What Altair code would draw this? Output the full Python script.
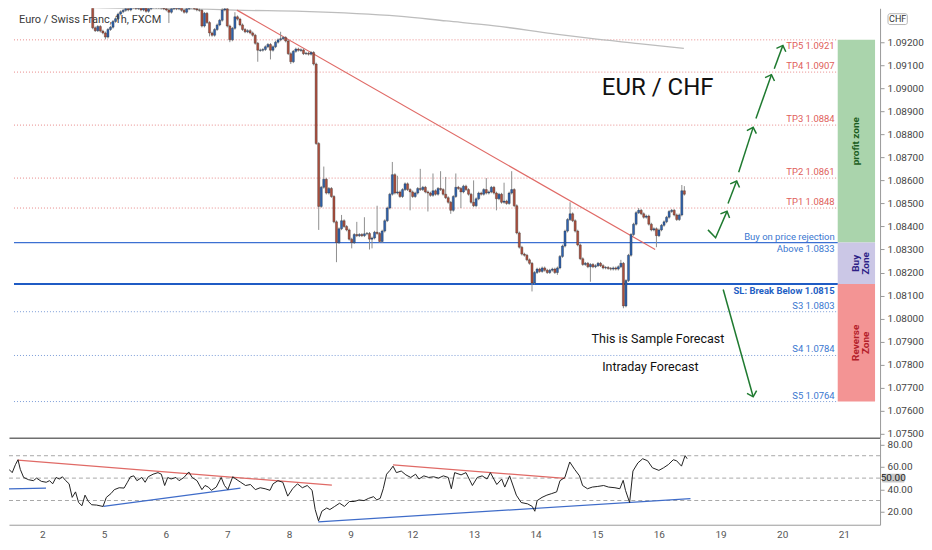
import json
import math
import altair as alt
import pandas as pd

# ------------------------------------------------------------------ data
BASE = 1.08000          # closes are given in pipettes above 1.08000
PIP = 0.00001

closes = [
    1490, 1505, 1520, 1530, 1505, 1492, 1488, 1485, 1490, 1480,
    1488, 1478, 1472, 1476, 1468, 1474, 1462, 1472, 1470, 1476,
    1468, 1465, 1458, 1440, 1405, 1420, 1385, 1372, 1360, 1385,
    1372, 1262, 1250, 1268, 1248, 1240, 1222, 1255, 1265, 1290,
    1302, 1322, 1332, 1338, 1345, 1340, 1350, 1356, 1346, 1352,
    1340, 1348, 1334, 1345, 1352, 1358, 1350, 1355, 1348, 1345,
    1340, 1330, 1345, 1350, 1345, 1352, 1338, 1330, 1345, 1350,
    1355, 1345, 1340, 1338, 1270, 1325, 1285, 1240, 1230, 1255,
    1275, 1295, 1340, 1345, 1270, 1210, 1260, 1310, 1300, 1275,
    1255, 1245, 1250, 1240, 1230, 1195, 1165, 1165, 1168, 1180,
    1190, 1165, 1180, 1200, 1210, 1215, 1220, 1205, 1150, 1115,
    1160, 1170, 1165, 1166, 1150, 1152, 1148, 1155, 1105, 760,
    487, 570, 605, 545, 565, 530, 420, 330, 390, 425,
    400, 385, 345, 330, 365, 360, 365, 360, 368, 370,
    345, 350, 375, 370, 335, 380, 425, 480, 540, 625,
    545, 550, 530, 560, 585, 560, 550, 530, 545, 565,
    560, 570, 550, 545, 535, 555, 540, 565, 560, 540,
    525, 505, 470, 530, 570, 565, 550, 575, 560, 540,
    505, 490, 520, 545, 540, 560, 545, 550, 570, 545,
    520, 540, 505, 510, 500, 545, 560, 490, 372, 310,
    280, 275, 255, 240, 155, 200, 215, 205, 220, 210,
    200, 210, 215, 200, 220, 270, 315, 380, 430, 455,
    425, 380, 320, 260, 235, 240, 225, 235, 225, 230,
    240, 230, 220, 222, 218, 215, 220, 215, 225, 240,
    55, 165, 275, 365, 410, 460, 470, 455, 440, 445,
    410, 385, 390, 360, 385, 405, 420, 440, 465, 470,
    450, 430, 450, 555, 540,
]
first_open = 1480
wick_high = {82: 1360, 87: 1330, 105: 1245, 122: 660, 129: 450, 135: 420, 138: 440,
             143: 490, 149: 680, 151: 620, 160: 650, 165: 630, 168: 640, 170: 615,
             174: 630, 181: 600, 186: 610, 193: 590, 196: 640, 219: 505, 239: 255,
             246: 480, 263: 580, 264: 575}
wick_low = {36: 1212, 61: 1283, 77: 1225, 85: 1200, 96: 1115, 101: 1125, 109: 1105,
            120: 385, 127: 245, 133: 305, 140: 300, 141: 305, 156: 470, 163: 465,
            172: 455, 176: 480, 190: 470, 204: 118, 214: 190, 227: 160, 240: 45, 253: 310}
WICK = 6

ma_bar = [0, 37.8, 75.7, 87.1, 113.6, 151.4, 170.3, 189.3, 212, 227.1, 246, 263.8]
ma_val = [1372, 1348, 1343, 1339, 1334, 1313, 1292, 1271, 1237, 1216, 1194, 1173]

trend_bar = [87.8, 252.5]
trend_price = [1.09339, 1.08300]

tp_prices = [1.0921, 1.0907, 1.0884, 1.0861, 1.0848]
tp_labels = ["TP5 1.0921", "TP4 1.0907", "TP3 1.0884", "TP2 1.0861", "TP1 1.0848"]
tp_side = ["below", "above", "above", "above", "above"]
s_prices = [1.0803, 1.0784, 1.0764]
s_labels = ["S3 1.0803", "S4 1.0784", "S5 1.0764"]
buy_price = 1.0833
sl_price = 1.0815

zone_names = ["profit zone", "Buy\nZone", "Reverse\nZone"]
zone_top = [1.0921, 1.0833, 1.0815]
zone_bot = [1.0833, 1.0815, 1.0764]
zone_fill = ["#aad4ac", "#cbc7e6", "#f39494"]
zone_text = ["#1c5e22", "#2e1f86", "#b3202a"]

arrow_id = [1, 1, 1, 2, 2, 3, 3, 4, 4, 5, 5, 6, 6]
arrow_bar = [273.3, 276.3, 280.8, 281.2, 284.6, 285.4, 291.1, 292.2, 298.3, 299.4, 302.8, 279.3, 291.1]
arrow_price = [1.083852, 1.083513, 1.084657, 1.084996, 1.085970, 1.086352, 1.088301,
               1.088682, 1.090589, 1.090843, 1.091860, 1.081267, 1.076606]

day_bars = [13, 37, 61, 85, 109, 133, 157, 181, 205, 229, 253, 277, 301, 325]
day_labels = ["2", "5", "6", "7", "8", "9", "12", "13", "14", "15", "16", "19", "20", "21"]
price_ticks = [1.075, 1.076, 1.077, 1.078, 1.079, 1.080, 1.081, 1.082, 1.083, 1.084,
               1.085, 1.086, 1.087, 1.088, 1.089, 1.090, 1.091, 1.092]

rsi_bar = [0, 1.25, 2.5, 3.5, 4.4, 5.7, 7.6, 9.5, 10.7, 12.6, 14.5, 15.8, 17, 18.3, 19.6,
           20.8, 22.1, 23.4, 24.6, 25.9, 27.1, 28.4, 29.6, 30.9, 32.2, 34.1, 36.6, 37.9,
           39.7, 41, 42.9, 44.8, 46.1, 47.3, 48.6, 49.8, 51.7, 53, 54.2, 56.1, 58, 59.3,
           60.6, 61.8, 63.1, 65, 66.2, 68.1, 70, 71.3, 73.2, 75.1, 76.3, 77.6, 78.8, 80.7,
           82.6, 83.9, 85.2, 87.1, 88.3, 90.2, 92.1, 94, 95.9, 97.8, 99.7, 101.6, 102.8,
           104.7, 106.6, 108.5, 110.4, 112.3, 114.2, 116.1, 118, 119.2, 120.5, 121.8,
           123.7, 124.9, 126.8, 128.7, 130.6, 132.5, 134.4, 136.3, 138.2, 140, 141.9,
           143.2, 144.5, 145.7, 147, 148.3, 149.5, 150.8, 152.7, 154.5, 156.4, 158.3,
           159.6, 161.5, 163.4, 165.3, 167.2, 169.1, 171, 172.2, 173.5, 176, 177.9, 180.4,
           182.3, 184.2, 186.1, 187.4, 189.9, 191.8, 193, 194.9, 197.5, 199.4, 201.9,
           203.7, 204.7, 205.6, 207.5, 209.4, 211.3, 213.2, 214.5, 216.4, 218.3, 220.2,
           222.1, 223.3, 225.2, 227.1, 229, 231.5, 233.4, 235.9, 237.8, 239.1, 240,
           241.6, 242.9, 244.8, 246.7, 248.6, 250.5, 253, 254.8, 256.7, 258.6, 259.9,
           261.8, 263.2, 264]
rsi_val = [57.8, 54.9, 62, 66.4, 57.8, 50.6, 48.6, 47.7, 50, 47.1, 46.3, 47.7, 44.9, 50.6,
           49.2, 51.2, 47.7, 44.9, 32.8, 37.7, 28.2, 25.3, 34.8, 29.1, 26.2, 25.9, 24.7,
           32.8, 36.2, 39.7, 41.4, 41.1, 46.3, 51.2, 52, 47.7, 50.6, 46.3, 51.2, 53.5, 54.9,
           53.5, 43.4, 50.6, 49.2, 50.6, 47.7, 50.6, 55.5, 50.6, 47.7, 39.7, 43.4, 42, 39.1,
           42, 50.6, 43.4, 39.7, 51.2, 49.2, 46.3, 43.4, 44.3, 39.7, 41.4, 40.5, 39.1, 44.9,
           47.7, 46.3, 33.9, 40.5, 44.9, 41.4, 43.4, 39.1, 21.9, 11.8, 20.4, 23.3, 21.9,
           24.7, 27.6, 24.7, 29.1, 29.1, 30.5, 29.9, 31.9, 33.4, 30.5, 31.9, 40.5, 53.5,
           56.9, 60.7, 54.9, 56.3, 52.9, 50.6, 53.5, 49.2, 52, 50.6, 51.2, 50, 52, 50.6,
           40.5, 54.9, 52.9, 54.9, 43.4, 50.6, 52, 49.2, 54.9, 44.3, 49.2, 42, 52, 34.8,
           28.2, 27, 24.7, 20.4, 29.9, 32.8, 34.8, 36.2, 37.7, 47.7, 50.6, 64.4, 57.8, 52,
           43.4, 40.5, 42, 42.5, 43.4, 42, 41.4, 40.5, 48, 39.1, 28.2, 56.3, 63.5, 67.3,
           65.5, 59.2, 56.9, 59.2, 62.1, 66.4, 65.5, 60.7, 70.1, 67.3]

rsi_tl_id = ["r1", "r1", "b0", "b0", "b1", "b1", "b2", "b2", "r2", "r2"]
rsi_tl_bar = [3.4, 125.7, 0, 14.4, 36.7, 90.1, 120.4, 265.3, 149.5, 216.5]
rsi_tl_val = [66.1, 43.7, 40.3, 41.1, 24.7, 41.1, 10.9, 31.6, 61.8, 49.7]
rsi_tl_col = ["#e06a66", "#e06a66", "#3f6cc9", "#3f6cc9", "#3f6cc9", "#3f6cc9",
              "#3f6cc9", "#3f6cc9", "#e06a66", "#e06a66"]
rsi_levels = [30, 50, 70]

# ------------------------------------------------------------------ layout
W, H1, H2 = 872, 430, 86
X_DOM = [0, 339.1]
P_DOM = [1.074826, 1.09347]
R_DOM = [8.36, 85.1]
ZONE_X0 = 324.4
LABEL_X = 323.2
FONT = "Roboto"
LFS = 9.5

# ------------------------------------------------------------------ tables
rows = []
prev = first_open
for i, c in enumerate(closes):
    o = prev
    top, bot = max(o, c), min(o, c)
    if top - bot < 2:
        top += 1
        bot -= 1
    hi = wick_high.get(i, top + WICK)
    lo = wick_low.get(i, bot - WICK)
    rows.append(dict(bar=i, top=BASE + top * PIP, bot=BASE + bot * PIP,
                     high=BASE + hi * PIP, low=BASE + lo * PIP,
                     dir="up" if c >= o else "down"))
    prev = c
candles = pd.DataFrame(rows)

ma_df = pd.DataFrame({"bar": ma_bar, "price": [BASE + v * PIP for v in ma_val]})
trend_df = pd.DataFrame({"bar": trend_bar, "price": trend_price})
tp_df = pd.DataFrame({"price": tp_prices, "x0": 0, "x1": ZONE_X0})
s_df = pd.DataFrame({"price": s_prices, "x0": 0, "x1": ZONE_X0})
buy_df = pd.DataFrame({"price": [buy_price], "x0": [0], "x1": [ZONE_X0]})
sl_df = pd.DataFrame({"price": [sl_price], "x0": [0], "x1": [ZONE_X0]})

TP_COL, S_COL, SL_COL = "#e0605a", "#3a77d0", "#1f5fc4"
lab = []
for p, t, s in zip(tp_prices, tp_labels, tp_side):
    lab.append(dict(price=p, label=t, side=s, col=TP_COL))
for p, t in zip(s_prices, s_labels):
    lab.append(dict(price=p, label=t, side="above", col=S_COL))
lab.append(dict(price=buy_price, label="Buy on price rejection", side="above", col=S_COL))
lab.append(dict(price=buy_price, label="Above 1.0833", side="below", col=S_COL))
lab_df = pd.DataFrame(lab)
lab_df["lx"] = LABEL_X
sl_lab = pd.DataFrame({"price": [sl_price], "lx": [LABEL_X], "label": ["SL: Break Below 1.0815"]})

zone_df = pd.DataFrame({"name": zone_names, "p0": zone_top, "p1": zone_bot,
                        "fill": zone_fill, "tcol": zone_text})
zone_df["x0"] = ZONE_X0
zone_df["x1"] = X_DOM[1]
zone_df["xm"] = (ZONE_X0 + X_DOM[1]) / 2
zone_df["pm"] = (zone_df["p0"] + zone_df["p1"]) / 2

arrows = pd.DataFrame({"arrow": arrow_id, "bar": arrow_bar, "price": arrow_price})
arrows["seq"] = range(len(arrows))
ppb = W / (X_DOM[1] - X_DOM[0])
ppp = H1 / (P_DOM[1] - P_DOM[0])
heads = []
for a, g in arrows.groupby("arrow"):
    b0, p0 = g.iloc[-2]["bar"], g.iloc[-2]["price"]
    b1, p1 = g.iloc[-1]["bar"], g.iloc[-1]["price"]
    dx = (b1 - b0) * ppb
    dy = -(p1 - p0) * ppp
    ang = math.degrees(math.atan2(dx, -dy)) % 360
    heads.append(dict(bar=b1, price=p1, ang=ang))
heads = pd.DataFrame(heads)

big_text = pd.DataFrame({"bar": [253.5], "price": [1.08999], "t": ["EUR / CHF"]})
mid_text = pd.DataFrame({"bar": [253.6, 250.6], "price": [1.079106, 1.077919],
                         "t": ["This is Sample Forecast", "Intraday Forecast"]})
title_df = pd.DataFrame({"bar": [2.0], "price": [1.09296], "t": ["Euro / Swiss Franc, 1h, FXCM"]})
chf_box = pd.DataFrame({"x0": [344.2], "x1": [351.8], "p0": [1.093235], "p1": [1.092765],
                        "xm": [348.0], "pm": [1.093], "t": ["CHF"]})

rsi_df = pd.DataFrame({"bar": rsi_bar, "rsi": rsi_val})
rsi_tl = pd.DataFrame({"id": rsi_tl_id, "bar": rsi_tl_bar, "rsi": rsi_tl_val, "col": rsi_tl_col})
rsi_lv = pd.DataFrame({"lvl": rsi_levels})
r50 = pd.DataFrame({"x0": [339.9], "x1": [348.6], "r0": [53.9], "r1": [46.1],
                    "xm": [344.25], "rm": [50], "t": ["50.00"]})

# ------------------------------------------------------------------ encodings
xs = alt.Scale(domain=X_DOM, nice=False, zero=False)
ys = alt.Scale(domain=P_DOM, nice=False, zero=False)
rs = alt.Scale(domain=R_DOM, nice=False, zero=False)

x_axis_main = alt.Axis(labels=False, ticks=False, grid=False, domain=True,
                       domainColor="#6f6f6f", domainWidth=1.5, title=None)
y_axis_main = alt.Axis(orient="right", values=price_ticks, format=".5f", grid=False,
                       tickSize=4, tickColor="#9a9a9a", domainColor="#9a9a9a",
                       labelColor="#444444", labelFontSize=10, labelFont=FONT,
                       labelPadding=3, title=None)
label_expr = "%s[indexof(%s, datum.value)]" % (json.dumps(day_labels), json.dumps(day_bars))
x_axis_rsi = alt.Axis(values=day_bars, labelExpr=label_expr, ticks=False, grid=False,
                      domainColor="#9a9a9a", labelColor="#555555", labelFontSize=10,
                      labelFont=FONT, labelPadding=5, title=None)
y_axis_rsi = alt.Axis(orient="right", values=[20, 40, 60, 80], format=".2f", grid=False,
                      tickSize=4, tickColor="#9a9a9a", domainColor="#9a9a9a",
                      labelColor="#444444", labelFontSize=10, labelFont=FONT,
                      labelPadding=3, title=None)


def PX(f):
    return alt.X(f, type="quantitative", scale=xs, axis=x_axis_main)


def PY(f):
    return alt.Y(f, type="quantitative", scale=ys, axis=y_axis_main)


def RX(f):
    return alt.X(f, type="quantitative", scale=xs, axis=x_axis_rsi)


def RY(f):
    return alt.Y(f, type="quantitative", scale=rs, axis=y_axis_rsi)


# ------------------------------------------------------------------ main panel
zones = alt.Chart(zone_df).mark_rect(clip=True).encode(
    x=PX("x0"), x2=alt.X2("x1"), y=PY("p0"), y2=alt.Y2("p1"),
    color=alt.Color("fill:N", scale=None))
zone_lbl = alt.Chart(zone_df).mark_text(angle=270, font=FONT, fontSize=10,
                                        fontWeight="bold", lineBreak="\n",
                                        lineHeight=10).encode(
    x=PX("xm"), y=PY("pm"), text="name:N", color=alt.Color("tcol:N", scale=None))

tp_lines = alt.Chart(tp_df).mark_rule(color="#e88a8a", strokeDash=[1, 2], strokeWidth=1).encode(
    x=PX("x0"), x2=alt.X2("x1"), y=PY("price"))
s_lines = alt.Chart(s_df).mark_rule(color="#7d9ed8", strokeDash=[1, 2], strokeWidth=1).encode(
    x=PX("x0"), x2=alt.X2("x1"), y=PY("price"))
buy_line = alt.Chart(buy_df).mark_rule(color="#3c70d2", strokeWidth=1.2).encode(
    x=PX("x0"), x2=alt.X2("x1"), y=PY("price"))
sl_line = alt.Chart(sl_df).mark_rule(color="#1f5bc4", strokeWidth=2).encode(
    x=PX("x0"), x2=alt.X2("x1"), y=PY("price"))

ma_line = alt.Chart(ma_df).mark_line(color="#bdbdbd", strokeWidth=1.3, clip=True,
                                     interpolate="monotone").encode(x=PX("bar"), y=PY("price"))
trend = alt.Chart(trend_df).mark_line(color="#e06a66", strokeWidth=1.2, clip=True).encode(
    x=PX("bar"), y=PY("price"))

wicks = alt.Chart(candles).mark_rule(color="#8f8f8f", strokeWidth=1, clip=True).encode(
    x=PX("bar"), y=PY("high"), y2=alt.Y2("low"))
bodies = alt.Chart(candles).mark_bar(size=2.1, clip=True, stroke="#2a2a2a",
                                     strokeWidth=0.35).encode(
    x=PX("bar"), y=PY("top"), y2=alt.Y2("bot"),
    color=alt.Color("dir:N", scale=alt.Scale(domain=["up", "down"],
                                             range=["#2f63b0", "#b04f3d"]), legend=None))

lab_above = alt.Chart(lab_df[lab_df.side == "above"]).mark_text(
    align="right", baseline="bottom", dy=-1, font=FONT, fontSize=LFS).encode(
    x=PX("lx"), y=PY("price"), text="label:N", color=alt.Color("col:N", scale=None))
lab_below = alt.Chart(lab_df[lab_df.side == "below"]).mark_text(
    align="right", baseline="top", dy=1, font=FONT, fontSize=LFS).encode(
    x=PX("lx"), y=PY("price"), text="label:N", color=alt.Color("col:N", scale=None))
sl_text = alt.Chart(sl_lab).mark_text(align="right", baseline="top", dy=2, font=FONT,
                                      fontSize=LFS, fontWeight="bold", color=SL_COL).encode(
    x=PX("lx"), y=PY("price"), text="label:N")

arrow_lines = alt.Chart(arrows).mark_line(color="#1f7a30", strokeWidth=1.5).encode(
    x=PX("bar"), y=PY("price"), detail="arrow:N", order="seq:Q")
arrow_heads = alt.Chart(heads).mark_point(shape="M -1 1 L 0 0 L 1 1", filled=False,
                                          size=100, strokeWidth=1.5, color="#1f7a30",
                                          opacity=1).encode(
    x=PX("bar"), y=PY("price"), angle=alt.Angle("ang:Q", scale=None))

big = alt.Chart(big_text).mark_text(font=FONT, fontSize=24, color="#111111").encode(
    x=PX("bar"), y=PY("price"), text="t:N")
mid = alt.Chart(mid_text).mark_text(font=FONT, fontSize=12.5, color="#111111").encode(
    x=PX("bar"), y=PY("price"), text="t:N")
title = alt.Chart(title_df).mark_text(font=FONT, fontSize=11, color="#3a3a3a",
                                      align="left").encode(
    x=PX("bar"), y=PY("price"), text="t:N")
chf_rect = alt.Chart(chf_box).mark_rect(fill="white", stroke="#b5b5b5", strokeWidth=1,
                                        cornerRadius=2).encode(
    x=PX("x0"), x2=alt.X2("x1"), y=PY("p0"), y2=alt.Y2("p1"))
chf_txt = alt.Chart(chf_box).mark_text(font=FONT, fontSize=9, color="#333333").encode(
    x=PX("xm"), y=PY("pm"), text="t:N")

main = alt.layer(
    zones, tp_lines, s_lines, buy_line, sl_line, ma_line, trend, wicks, bodies,
    lab_above, lab_below, sl_text, zone_lbl, arrow_lines, arrow_heads,
    big, mid, title, chf_rect, chf_txt
).properties(width=W, height=H1)

# ------------------------------------------------------------------ RSI panel
r_levels = alt.Chart(rsi_lv).mark_rule(color="#a8a8a8", strokeDash=[4, 3], strokeWidth=1).encode(
    y=RY("lvl"))
r_tl = alt.Chart(rsi_tl).mark_line(strokeWidth=1.2, clip=True).encode(
    x=RX("bar"), y=RY("rsi"), detail="id:N", color=alt.Color("col:N", scale=None))
r_line = alt.Chart(rsi_df).mark_line(color="#222222", strokeWidth=1, clip=True).encode(
    x=RX("bar"), y=RY("rsi"))
r50_rect = alt.Chart(r50).mark_rect(fill="#c8c8c8", cornerRadius=1).encode(
    x=RX("x0"), x2=alt.X2("x1"), y=RY("r0"), y2=alt.Y2("r1"))
r50_txt = alt.Chart(r50).mark_text(font=FONT, fontSize=10, color="#222222").encode(
    x=RX("xm"), y=RY("rm"), text="t:N")

rsi = alt.layer(r_levels, r_tl, r_line, r50_rect, r50_txt).properties(width=W, height=H2)

chart = alt.vconcat(main, rsi, spacing=0).properties(
    padding={"left": 0, "top": 0, "right": 0, "bottom": 0},
    background="white",
).configure_view(stroke=None)

chart.save("out.html", embed_options={"renderer": "svg", "actions": False})
